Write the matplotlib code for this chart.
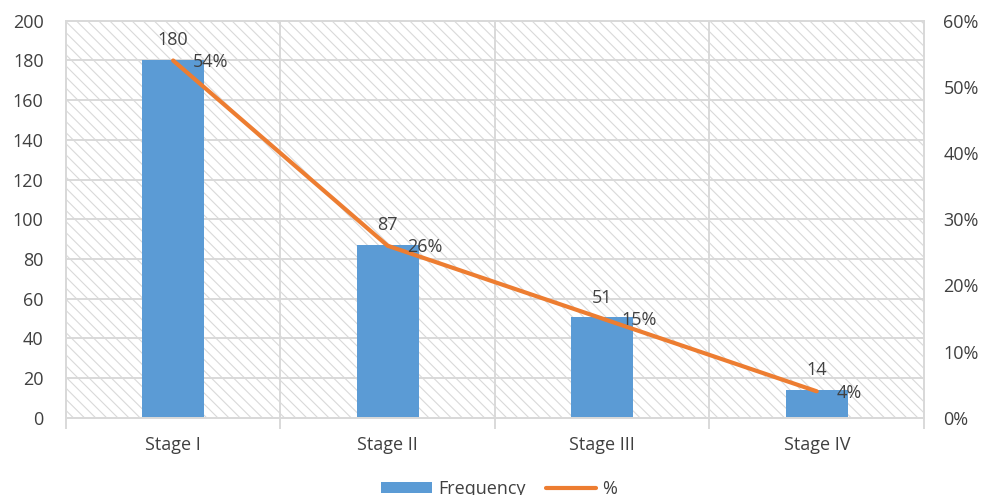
import numpy as np
import matplotlib

matplotlib.use("Agg")
import matplotlib.pyplot as plt
from matplotlib.patches import Rectangle
from matplotlib.ticker import FuncFormatter

# Dados: frequência e percentual por estágio
stages = ["Stage I", "Stage II", "Stage III", "Stage IV"]
frequency = [180, 87, 51, 14]
percent = [54, 26, 15, 4]

BLUE = "#5B9BD5"
ORANGE = "#ED7D31"
TEXT = "#404040"
GRID = "#d9d9d9"
FS = 13

plt.rcParams.update({
    "font.family": ["Open Sans", "DejaVu Sans"],
    "font.size": FS,
    "hatch.linewidth": 0.8,
    "hatch.color": "#d9d9d9",
})

fig = plt.figure(figsize=(9.83, 4.95), dpi=100)
ax = fig.add_axes([0.067, 0.156, 0.873, 0.802])
ax2 = ax.twinx()

x = np.arange(len(stages))
ax.set_xlim(-0.5, len(stages) - 0.5)
ax.set_ylim(0, 200)
ax2.set_ylim(0, 60)

# fundo hachurado
ax.add_patch(Rectangle((0, 0), 1, 1, transform=ax.transAxes, facecolor="white",
                       edgecolor="#d9d9d9", hatch="\\\\\\", linewidth=0, zorder=0))

for yv in np.arange(20, 201, 20):
    ax.axhline(yv, color=GRID, lw=1.4, zorder=1)
for xv in np.arange(0.5, len(stages) - 0.5, 1):
    ax.axvline(xv, color=GRID, lw=1.4, zorder=1)

ax.bar(x, frequency, width=0.29, color=BLUE, zorder=2, label="Frequency")
line, = ax2.plot(x, percent, color=ORANGE, lw=3, solid_capstyle="round", label="%", zorder=3)

for xi, f, p in zip(x, frequency, percent):
    ax.annotate(str(f), (xi, p * 200 / 60), textcoords="offset points", xytext=(0, 15),
                ha="center", va="center", color=TEXT, fontsize=FS, zorder=4)
    ax2.annotate(f"{p}%", (xi, p), textcoords="offset points", xytext=(14, -1),
                 ha="left", va="center", color=TEXT, fontsize=FS, zorder=4)

ax.set_yticks(np.arange(0, 201, 20))
ax2.set_yticks(np.arange(0, 61, 10))
ax2.yaxis.set_major_formatter(FuncFormatter(lambda v, _: f"{v:.0f}%"))
ax.set_xticks(x)
ax.set_xticklabels(stages)
ax.set_xticks(np.arange(-0.5, len(stages), 1), minor=True)

ax.tick_params(axis="x", which="major", length=0, pad=13, colors=TEXT, labelsize=FS)
ax.tick_params(axis="x", which="minor", length=8, color=GRID, width=1.4)
ax.tick_params(axis="y", length=0, pad=16, colors=TEXT, labelsize=FS)
ax2.tick_params(axis="y", length=0, pad=14, colors=TEXT, labelsize=FS)

for a in (ax, ax2):
    for s in a.spines.values():
        s.set_color(GRID)
        s.set_linewidth(1.4)

ax.set_zorder(1)
ax2.set_zorder(2)
ax2.patch.set_visible(False)

fig.legend(handles=[ax.containers[0], line], labels=["Frequency", "%"], loc="center",
           bbox_to_anchor=(0.508, 0.012), ncol=2, frameon=False, fontsize=FS,
           handlelength=2.8, handleheight=0.6, handletextpad=0.35, columnspacing=1.1,
           labelcolor=TEXT)

fig.savefig("out.png", dpi=100)
